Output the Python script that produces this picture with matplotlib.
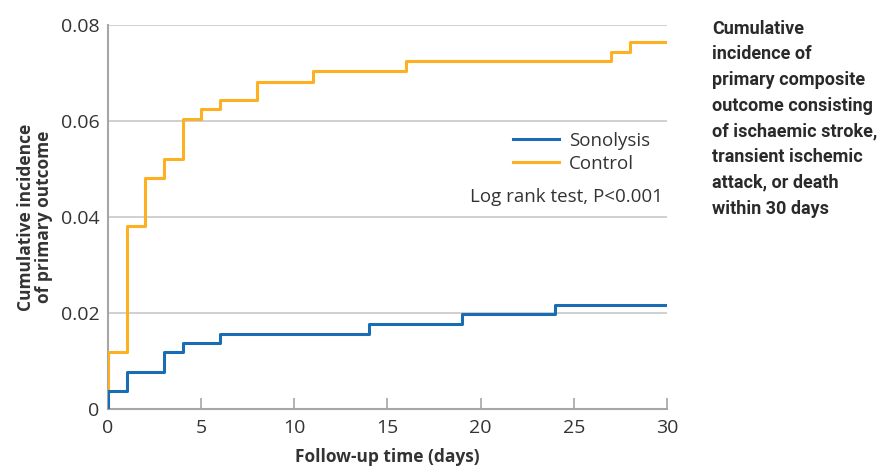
import matplotlib.pyplot as plt

# step times (days) and cumulative incidence values
sono_days = [0, 1, 3, 4, 6, 14, 19, 24, 30]
sono_inc = [0.0038, 0.0077, 0.0118, 0.0138, 0.0157, 0.0177, 0.0197, 0.0216, 0.0216]

ctrl_days = [0, 1, 2, 3, 4, 5, 6, 8, 11, 16, 27, 28, 30]
ctrl_inc = [0.0118, 0.0381, 0.0481, 0.0521, 0.0604, 0.0624, 0.0644, 0.0682, 0.0703,
            0.0724, 0.0743, 0.0764, 0.0764]

blue = '#1a6db3'
orange = '#fdb022'
grey = '#a6a6a6'

plt.rcParams['font.family'] = ['Open Sans', 'DejaVu Sans']

fig = plt.figure(figsize=(8.87, 4.69), dpi=100)
ax = fig.add_axes([0.1218, 0.128, 0.630, 0.819])

# curves start at zero at day 0
ax.step([0] + ctrl_days, [0] + ctrl_inc, where='post', color=orange, lw=2.2, label='Control', zorder=3)
ax.step([0] + sono_days, [0] + sono_inc, where='post', color=blue, lw=2.2, label='Sonolysis', zorder=4)

ax.set_xlim(0, 30)
ax.set_ylim(0, 0.08)
ax.set_xticks([0, 5, 10, 15, 20, 25, 30])
ax.set_yticks([0, 0.02, 0.04, 0.06, 0.08])
ax.set_yticklabels(['0', '0.02', '0.04', '0.06', '0.08'])
ax.grid(axis='y', color='#c8c8c8', lw=1.2)
ax.set_axisbelow(True)
for s in ['top', 'right']:
    ax.spines[s].set_visible(False)
for s in ['left', 'bottom']:
    ax.spines[s].set_color(grey)
    ax.spines[s].set_linewidth(1.5)
ax.tick_params(axis='x', direction='in', length=8, width=1.2, color=grey, labelsize=14,
               labelcolor='#333333', pad=7)
ax.tick_params(axis='y', length=0, labelsize=14, labelcolor='#333333', pad=6)

ax.set_xlabel('Follow-up time (days)', fontsize=12.5, fontweight='bold', color='#333333', labelpad=8)
ax.set_ylabel('Cumulative incidence\nof primary outcome', fontsize=12.5, fontweight='bold',
              color='#333333', labelpad=6, linespacing=0.95)

handles, labels = ax.get_legend_handles_labels()
leg = ax.legend(handles[::-1], labels[::-1], loc='upper right', bbox_to_anchor=(1.0, 0.765),
                frameon=False, fontsize=13.5, handlelength=2.5, handletextpad=0.5,
                labelspacing=0.25, labelcolor='#333333')
ax.text(0.993, 0.552, 'Log rank test, P<0.001', transform=ax.transAxes, ha='right', va='center',
        fontsize=13.5, color='#333333')

fig.text(0.803, 0.958, 'Cumulative\nincidence of\nprimary composite\noutcome consisting\n'
         'of ischaemic stroke,\ntransient ischemic\nattack, or death\nwithin 30 days',
         ha='left', va='top', fontsize=13, fontweight='bold', color='#2a2a2a', linespacing=1.55,
         family=['Roboto', 'DejaVu Sans'])

fig.savefig('out.png', dpi=100)
